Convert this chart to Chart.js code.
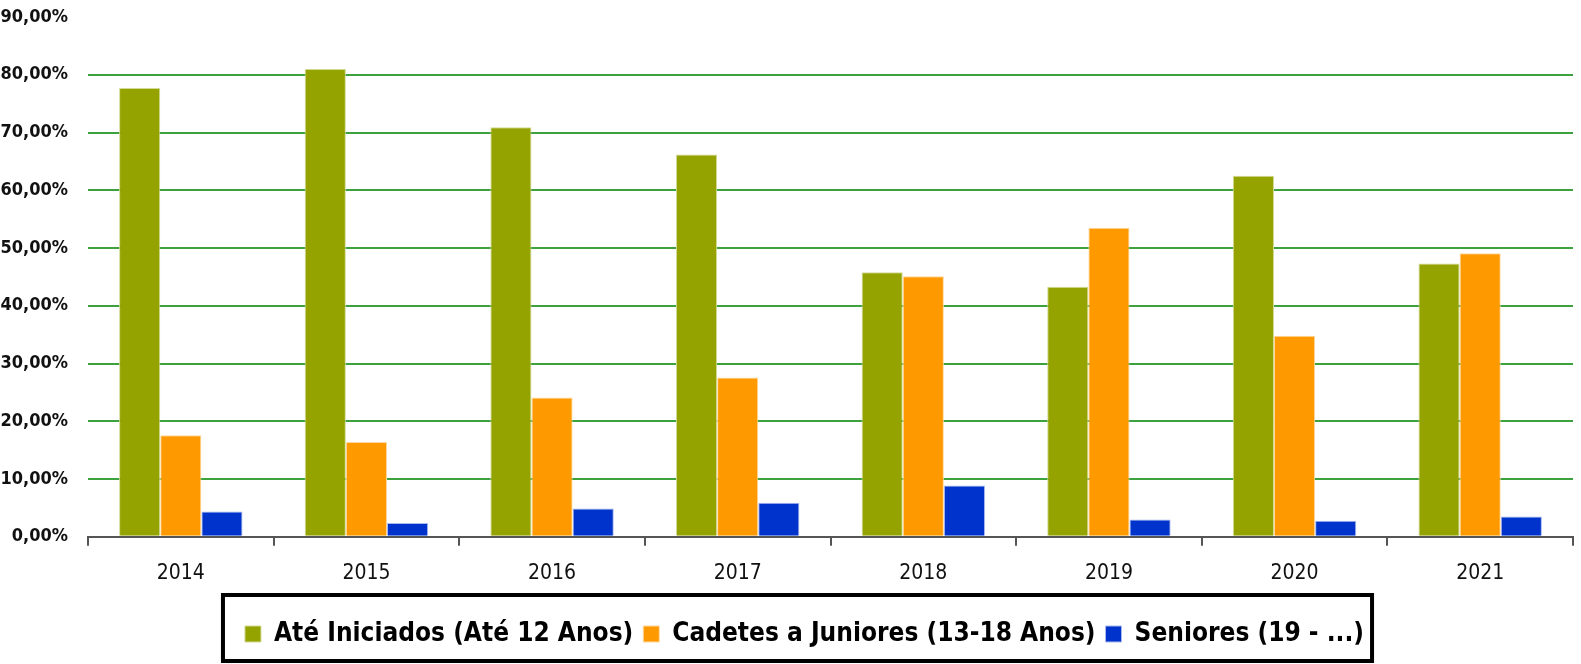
<!DOCTYPE html>
<html>
<head>
<meta charset="utf-8">
<script src="https://cdn.jsdelivr.net/npm/chart.js@4.4.1/dist/chart.umd.min.js"></script>
<style>
  html, body { margin: 0; padding: 0; background: #fff; }
  #wrap { width: 1581px; height: 664px; }
</style>
</head>
<body>
<div id="wrap"><canvas id="ageChart" width="1581" height="664"></canvas></div>
<script>
const FONT = '"Liberation Sans Narrow", "DejaVu Sans Condensed", "Roboto Condensed", Roboto, sans-serif';

const years = ['2014', '2015', '2016', '2017', '2018', '2019', '2020', '2021'];
const ateIniciados = [77.7, 81.0, 70.9, 66.2, 45.8, 43.3, 62.5, 47.3];
const cadetesJuniores = [17.6, 16.4, 24.1, 27.6, 45.1, 53.5, 34.8, 49.1];
const seniores = [4.4, 2.4, 4.9, 5.9, 8.9, 3.0, 2.8, 3.5];

// box round the legend, like the original
const legendBox = {
    id: 'legendBox',
    beforeInit(chart) {
        const fit = chart.legend.fit;
        chart.legend.fit = function () {
            fit.call(this);
            this.height += 7;
        };
    },
    afterLayout(chart) {
        // legend sits a bit right of centre in the original
        chart.legend.left += 18;
        chart.legend.right += 18;
    },
    afterDraw(chart) {
        const boxes = chart.legend.legendHitBoxes;
        if (!boxes || !boxes.length) return;
        const left = Math.min(...boxes.map(b => b.left)) - 22;
        const right = Math.max(...boxes.map(b => b.left + b.width)) + 8;
        const ctx = chart.ctx;
        ctx.save();
        ctx.strokeStyle = '#000';
        ctx.lineWidth = 4;
        ctx.strokeRect(left, 595, right - left, 66);
        ctx.restore();
    }
};

const ctx = document.getElementById('ageChart').getContext('2d');

new Chart(ctx, {
    type: 'bar',
    data: {
        labels: years,
        datasets: [{
            label: 'Até Iniciados (Até 12 Anos)',
            data: ateIniciados,
            backgroundColor: '#94a300',
            borderColor: '#d3da95',
            borderWidth: 1,
        }, {
            label: 'Cadetes a Juniores (13-18 Anos)',
            data: cadetesJuniores,
            backgroundColor: '#ff9900',
            borderColor: '#ffd9a0',
            borderWidth: 1,
        }, {
            label: 'Seniores (19 - ...)',
            data: seniores,
            backgroundColor: '#0033cc',
            borderColor: '#a9b9ee',
            borderWidth: 1,
        }],
    },
    options: {
        responsive: false,
        animation: false,
        layout: {
            padding: { top: 17, right: 8, left: 0, bottom: 0 },
        },
        datasets: {
            bar: {
                categoryPercentage: 0.665,
                barPercentage: 1.0,
            },
        },
        plugins: {
            tooltip: { enabled: false },
            legend: {
                position: 'bottom',
                labels: {
                    color: '#000',
                    font: { family: FONT, size: 26, weight: 'bold' },
                    boxWidth: 16,
                    boxHeight: 16,
                    padding: 10,
                },
            },
        },
        scales: {
            x: {
                offset: true,
                grid: {
                    offset: true,
                    drawOnChartArea: false,
                    color: '#555',
                    tickLength: 9,
                    lineWidth: 2,
                },
                border: { color: '#555', width: 2 },
                ticks: {
                    color: '#111',
                    font: { family: FONT, size: 21 },
                    padding: 15,
                },
                afterFit: (s) => { s.height += 10; },
            },
            y: {
                min: 0,
                max: 90,
                grid: {
                    drawTicks: false,
                    lineWidth: 2,
                    color: (c) => (c.tick.value > 0 && c.tick.value < 90) ? '#3da23d' : 'rgba(0,0,0,0)',
                },
                border: { display: false },
                ticks: {
                    stepSize: 10,
                    color: '#111',
                    padding: 20,
                    font: { family: FONT, size: 18, weight: 'bold' },
                    callback: (v) => v.toFixed(2).replace('.', ',') + '%',
                },
                afterFit: (s) => { s.width = 88; s.paddingTop = 0; s.paddingBottom = 0; },
            },
        },
    },
    plugins: [legendBox],
});
</script>
</body>
</html>
